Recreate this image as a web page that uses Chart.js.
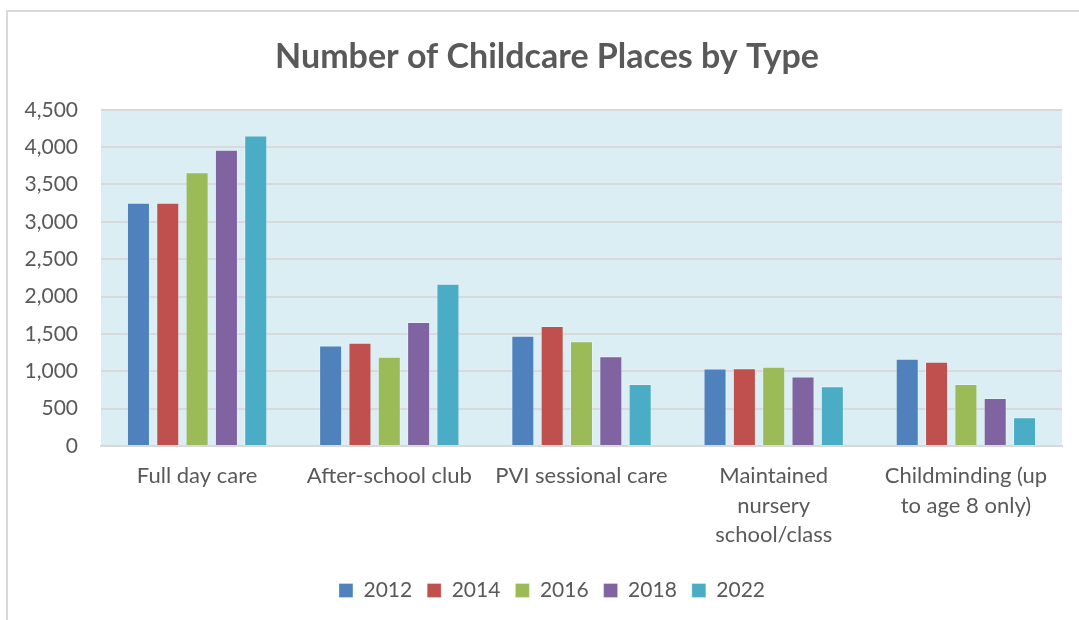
<!DOCTYPE html>
<html>
<head>
<meta charset="utf-8">
<script src="https://cdn.jsdelivr.net/npm/chart.js@4.4.0/dist/chart.umd.min.js"></script>
<style>
html,body{margin:0;padding:0;background:#fff;}
#wrap{position:relative;width:1079px;height:620px;}
#frame{position:absolute;left:6px;top:10px;width:1073px;height:610px;border-left:2px solid #D9D9D9;border-top:2px solid #D9D9D9;pointer-events:none;box-sizing:border-box;}
canvas{position:absolute;left:0;top:0;}
</style>
</head>
<body>
<div id="wrap">
<canvas id="c" width="1079" height="620"></canvas>
<div id="frame"></div>
</div>
<script>
const categories = [
  "Full day care",
  "After-school club",
  "PVI sessional care",
  ["Maintained", "nursery", "school/class"],
  ["Childminding (up", "to age 8 only)"]
];
const seriesNames = ["2012", "2014", "2016", "2018", "2022"];
const values2012 = [3255, 1345, 1475, 1035, 1165];
const values2014 = [3255, 1380, 1605, 1040, 1125];
const values2016 = [3665, 1195, 1400, 1060, 830];
const values2018 = [3965, 1660, 1200, 930, 640];
const values2022 = [4155, 2170, 830, 800, 385];
const yTicks = [0, 500, 1000, 1500, 2000, 2500, 3000, 3500, 4000, 4500];

const colors = ["#4F81BD", "#C0504D", "#9BBB59", "#8064A2", "#4BACC6"];
const allValues = [values2012, values2014, values2016, values2018, values2022];

const plotBg = {
  id: 'plotBg',
  afterLayout(chart) {
    // centre title and legend on the framed chart box like the original
    if (chart.titleBlock) { chart.titleBlock.left += 28; }
    if (chart.legend) { chart.legend.left += 38; }
  },
  beforeDraw(chart) {
    const {ctx, chartArea: a} = chart;
    ctx.save();
    ctx.fillStyle = '#DBEEF4';
    ctx.fillRect(a.left, a.top, a.right - a.left, a.bottom - a.top);
    ctx.restore();
  }
};

const FONT = 'Lato, "Open Sans", sans-serif';
new Chart(document.getElementById('c'), {
  type: 'bar',
  data: {
    labels: categories,
    datasets: seriesNames.map((n, i) => ({
      label: n,
      data: allValues[i],
      backgroundColor: colors[i],
      borderColor: 'rgba(255,255,255,0.3)',
      borderWidth: 1,
      categoryPercentage: 0.763,
      barPercentage: 0.785
    }))
  },
  options: {
    responsive: false,
    animation: false,
    devicePixelRatio: 1,
    layout: { padding: { left: 4, right: 17, top: 0, bottom: 9 } },
    plugins: {
      title: {
        display: true,
        text: 'Number of Childcare Places by Type',
        color: '#595959',
        font: { family: FONT, size: 34, weight: 'bold' },
        padding: { top: 37, bottom: 32 }
      },
      legend: {
        position: 'bottom',
        labels: {
          color: '#595959',
          font: { family: FONT, size: 21 },
          boxWidth: 14,
          boxHeight: 14,
          padding: 15
        }
      },
      tooltip: { enabled: false }
    },
    scales: {
      x: {
        grid: { display: false, drawTicks: false },
        border: { display: true, color: '#D9D9D9', width: 2 },
        ticks: {
          color: '#595959',
          font: { family: FONT, size: 22, lineHeight: 1.32 },
          padding: 16,
          maxRotation: 0,
          autoSkip: false
        }
      },
      y: {
        min: 0,
        max: 4500,
        afterBuildTicks(axis) { axis.ticks = yTicks.map(v => ({ value: v })); },
        afterFit(axis) { axis.width = 97; },
        grid: { color: '#D9D9D9', lineWidth: 2, drawTicks: false },
        border: { display: false },
        ticks: {
          color: '#595959',
          font: { family: FONT, size: 21 },
          padding: 23,
          callback: v => v.toLocaleString('en-US')
        }
      }
    }
  },
  plugins: [plotBg]
});
</script>
</body>
</html>
